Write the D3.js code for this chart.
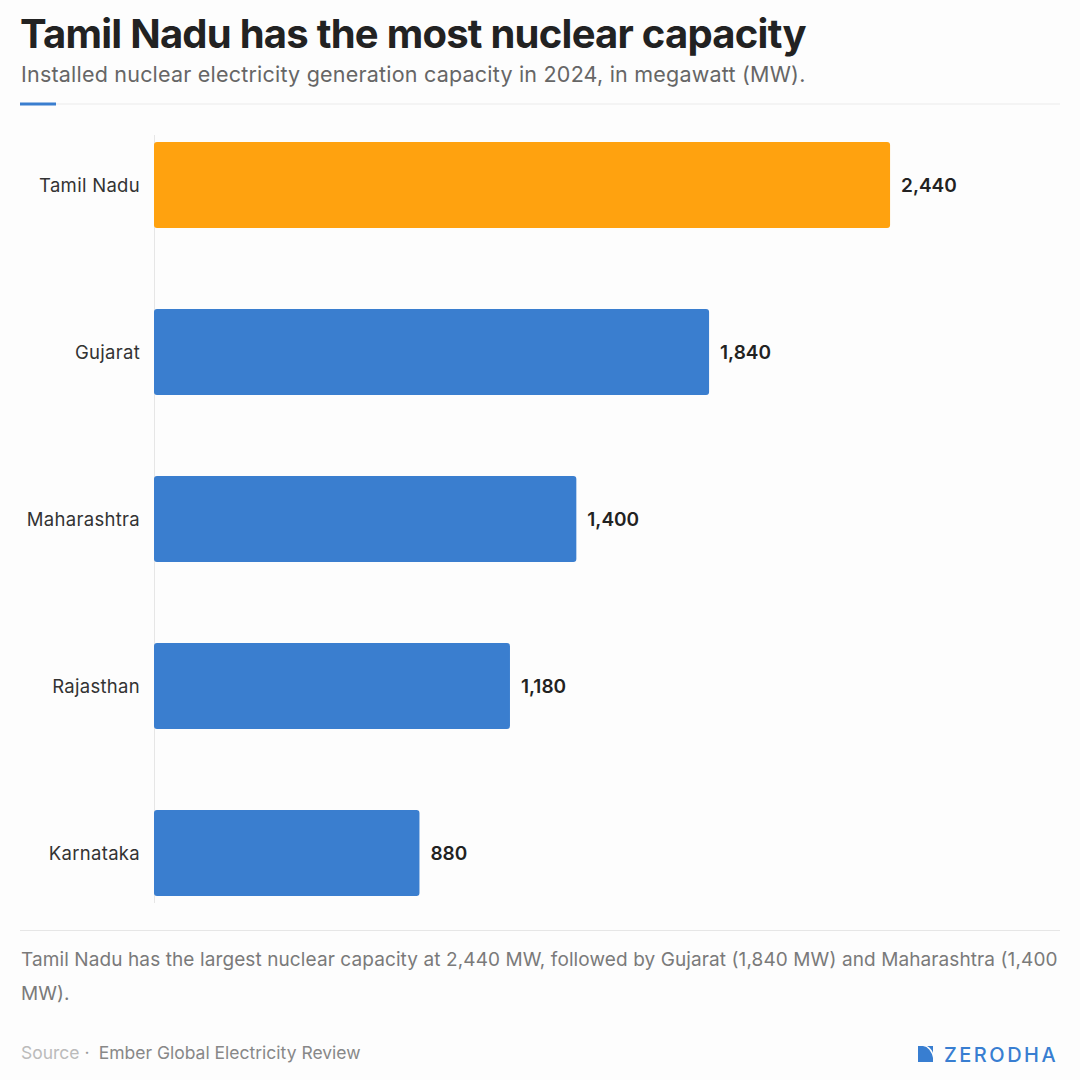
<!DOCTYPE html>
<html><head><meta charset="utf-8">
<script src="https://cdn.jsdelivr.net/npm/d3@7"></script>
<style>
html,body{margin:0;padding:0;background:#fdfdfd;}
svg{display:block;font-family:Inter,"Noto Sans",sans-serif;}
</style></head>
<body>
<svg id="c" width="1080" height="1080"></svg>
<script>
const categories = ["Tamil Nadu","Gujarat","Maharashtra","Rajasthan","Karnataka"];
const values = [2440,1840,1400,1180,880];
const highlight = ["Tamil Nadu"];
const title = "Tamil Nadu has the most nuclear capacity";
const subtitle = "Installed nuclear electricity generation capacity in 2024, in megawatt (MW).";
const noteLines = ["Tamil Nadu has the largest nuclear capacity at 2,440 MW, followed by Gujarat (1,840 MW) and Maharashtra (1,400","MW)."];
const sourceText = "Ember Global Electricity Review";

const svg = d3.select("#c");
svg.append("rect").attr("width",1080).attr("height",1080).attr("fill","#fdfdfd");

svg.append("text").attr("x",20).attr("y",48).attr("font-size",40).attr("font-weight",700)
  .attr("fill","#222").attr("letter-spacing",-0.75).text(title);
svg.append("text").attr("x",21).attr("y",82).attr("font-size",21.5).attr("fill","#666")
  .attr("letter-spacing",0.21).text(subtitle);
svg.append("line").attr("x1",20).attr("x2",1060).attr("y1",104).attr("y2",104).attr("stroke","#ebebeb").attr("stroke-width",1);
svg.append("line").attr("x1",20).attr("x2",56).attr("y1",104).attr("y2",104).attr("stroke","#3a7ecf").attr("stroke-width",3);

const x = d3.scaleLinear().domain([0,3000]).range([154,1059]);
const y = d3.scaleBand().domain(categories).range([101.5,936.5]).paddingInner(0.485).paddingOuter(0.2425);

svg.append("line").attr("x1",154.5).attr("x2",154.5).attr("y1",135).attr("y2",903).attr("stroke","#e6e6e6");

const data = categories.map((c,i)=>({c,v:values[i]}));
svg.selectAll("rect.bar").data(data).join("rect").attr("class","bar")
  .attr("x",x(0)).attr("y",d=>y(d.c)).attr("width",d=>x(d.v)-x(0)).attr("height",y.bandwidth())
  .attr("rx",3).attr("fill",d=>highlight.includes(d.c)?"#ffa20f":"#3a7ecf");

svg.selectAll("text.val").data(data).join("text").attr("class","val")
  .attr("x",d=>x(d.v)+11).attr("y",d=>y(d.c)+y.bandwidth()/2).attr("dy","0.38em")
  .attr("font-size",19).attr("font-weight",600).attr("fill","#222").text(d=>d3.format(",")(d.v));

const yAxis = d3.axisLeft(y).tickSize(0).tickPadding(14);
const ga = svg.append("g").attr("transform","translate(154,0)").call(yAxis);
ga.select(".domain").remove();
ga.selectAll("text").attr("font-size",18.5).attr("letter-spacing",0.3).attr("fill","#333").attr("dy","0.38em")
  .attr("font-family","Inter,'Noto Sans',sans-serif");

svg.append("line").attr("x1",20).attr("x2",1060).attr("y1",930.5).attr("y2",930.5).attr("stroke","#e6e6e6");
const note = svg.append("text").attr("x",21).attr("font-size",19).attr("letter-spacing",0.1).attr("fill","#7a7a7a");
noteLines.forEach((l,i)=>note.append("tspan").attr("x",21).attr("y",966+i*34).text(l));

const src = svg.append("text").attr("x",21).attr("y",1059).attr("font-size",17.5);
src.append("tspan").attr("fill","#bbbbbb").text("Source");
src.append("tspan").attr("fill","#999").attr("dx",5).text("\u00b7");
src.append("tspan").attr("fill","#888").attr("dx",9).text(sourceText);

const logo = svg.append("g").attr("transform","translate(918,1046)");
logo.append("path").attr("d","M0,0 L5,0 A11,16 0 0 1 15,12 L15,16 L0,16 Z").attr("fill","#387ed1");
logo.append("path").attr("d","M9,0 L15,0 L15,7 A12,12 0 0 0 9,0 Z").attr("fill","#387ed1");
svg.append("text").attr("x",944).attr("y",1062).attr("font-size",20).attr("font-weight",500)
  .attr("fill","#387ed1").attr("letter-spacing",2.5).text("ZERODHA");
</script>
</body></html>
